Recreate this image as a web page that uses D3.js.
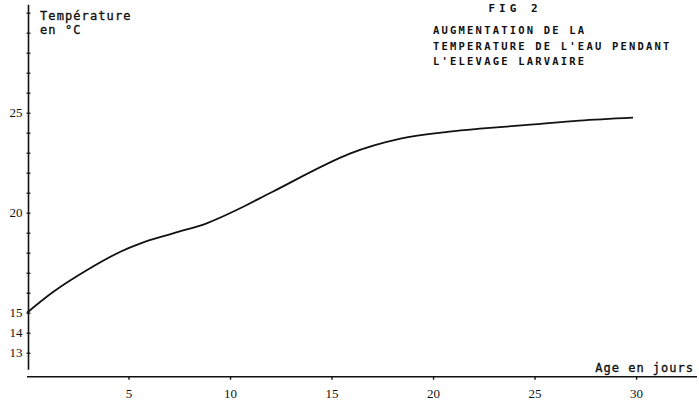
<!DOCTYPE html>
<html>
<head>
<meta charset="utf-8">
<script src="https://cdn.jsdelivr.net/npm/d3@7"></script>
<style>
  body { margin: 0; background: #fff; }
  .mono { font-family: "DejaVu Sans Mono", monospace; fill: #111; }
  .heavy { stroke: #111; stroke-width: 0.35; }
</style>
</head>
<body>
<svg id="chart" width="699" height="403"></svg>
<script>
// Water temperature (°C), by larval age (days)
var days  = [0, 1.3, 2.9, 4.6, 5.6, 7.2, 8.85, 10.5, 12.1, 15.9, 18.4, 20.8, 22.3, 24.8, 27.2, 29.85];
var temps = [15.0, 16.05, 17.1, 18.05, 18.47, 18.97, 19.47, 20.22, 21.05, 22.95, 23.7, 24.05, 24.2, 24.4, 24.6, 24.75];

var xTicks = [5, 10, 15, 20, 25, 30];
var yLabels = [13, 14, 15, 20, 25];
var yMinor = d3.range(13, 31);

var titleLines = ["AUGMENTATION DE LA", "TEMPERATURE DE L'EAU PENDANT", "L'ELEVAGE LARVAIRE"];

var svg = d3.select("#chart");

// Scales
var x = d3.scaleLinear().domain([0, 33]).range([27, 697]);
var y = d3.scaleLinear().domain([11.8, 30.4]).range([376.7, 4.7]);

// X axis
var xAxis = d3.axisBottom(x).tickValues(xTicks).tickSize(3).tickPadding(9).tickFormat(d3.format("d"));
var gx = svg.append("g").attr("transform", "translate(0," + y(11.8) + ")").call(xAxis)
  .attr("font-family", "Liberation Serif, serif").attr("font-size", 13);
gx.select(".domain").attr("d", "M" + x(0) + ",0H" + x(33)).attr("stroke", "#111").attr("stroke-width", 1.4);
gx.selectAll(".tick line").attr("stroke", "#111").attr("stroke-width", 1.4);
gx.selectAll(".tick text").attr("fill", "#111");

// Y axis: vertical line with small ticks every degree
var axisX = 28.5;
svg.append("line")
  .attr("x1", axisX).attr("x2", axisX)
  .attr("y1", y(30.4)).attr("y2", y(12.15))
  .attr("stroke", "#111").attr("stroke-width", 1.6);

var gyMinor = svg.append("g").attr("transform", "translate(" + (axisX + 2) + ",0)")
  .call(d3.axisLeft(y).tickValues(yMinor).tickSize(4).tickFormat(""));
gyMinor.select(".domain").remove();
gyMinor.selectAll(".tick line").attr("stroke", "#111").attr("stroke-width", 1.2);

var gyLab = svg.append("g").attr("transform", "translate(" + axisX + ",0)")
  .call(d3.axisLeft(y).tickValues(yLabels).tickSize(0).tickPadding(6))
  .attr("font-family", "Liberation Serif, serif").attr("font-size", 13);
gyLab.select(".domain").remove();
gyLab.selectAll(".tick text").attr("fill", "#111");

// Temperature curve
var line = d3.line()
  .x(function(d, i) { return x(days[i]); })
  .y(function(d) { return y(d); })
  .curve(d3.curveCatmullRom.alpha(0.5));

svg.append("path")
  .datum(temps)
  .attr("d", line)
  .attr("fill", "none")
  .attr("stroke", "#111")
  .attr("stroke-width", 1.8);

// Axis titles
svg.append("text").attr("class", "mono heavy").attr("x", 40).attr("y", 20)
  .attr("font-size", 12).attr("letter-spacing", 1.1).text("Température");
svg.append("text").attr("class", "mono heavy").attr("x", 40).attr("y", 34)
  .attr("font-size", 12).attr("letter-spacing", 1.1).text("en °C");
svg.append("text").attr("class", "mono heavy").attr("x", 694).attr("y", 372)
  .attr("text-anchor", "end").attr("font-size", 12).attr("letter-spacing", 1.0).text("Age en jours");

// Figure title
svg.append("text").attr("class", "mono").attr("x", 515).attr("y", 12)
  .attr("text-anchor", "middle").attr("font-size", 11).attr("font-weight", "bold")
  .attr("letter-spacing", 4).text("FIG 2");

svg.selectAll(".tline")
  .data(titleLines)
  .enter().append("text")
  .attr("class", "mono tline")
  .attr("x", 433)
  .attr("y", function(d, i) { return 34 + i * 15.5; })
  .attr("font-size", 10.5)
  .attr("font-weight", "bold")
  .attr("letter-spacing", 2.2)
  .text(function(d) { return d; });
</script>
</body>
</html>
